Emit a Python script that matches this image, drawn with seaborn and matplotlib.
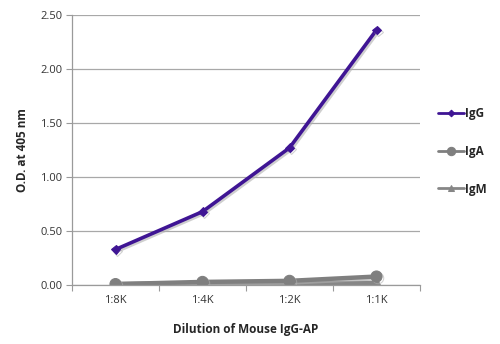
import matplotlib
matplotlib.use("Agg")
import matplotlib.pyplot as plt
import matplotlib.patheffects as pe
from matplotlib.ticker import FixedLocator
import seaborn as sns
import pandas as pd

dilutions = ["1:8K", "1:4K", "1:2K", "1:1K"]
igg = [0.33, 0.68, 1.27, 2.36]
iga = [0.01, 0.03, 0.04, 0.08]
igm = [0.01, 0.02, 0.02, 0.02]
series_names = ["IgG", "IgA", "IgM"]
y_ticks = [0.0, 0.5, 1.0, 1.5, 2.0, 2.5]

sns.set_theme(style="white")
plt.rcParams["font.family"] = ["Open Sans", "DejaVu Sans"]

df = pd.DataFrame({
    "dilution": dilutions * 3,
    "od": igg + iga + igm,
    "antibody": [n for n in series_names for _ in dilutions],
})
df["pos"] = df["dilution"].map({d: i for i, d in enumerate(dilutions)})

fig = plt.figure(figsize=(5.0, 3.44), dpi=100)
ax = fig.add_axes([0.144, 0.171, 0.696, 0.786])

palette = {"IgG": "#3f1594", "IgA": "#7f7f7f", "IgM": "#868686"}
markers = {"IgG": "D", "IgA": "o", "IgM": "^"}
sizes = {"IgG": 4.5, "IgA": 8, "IgM": 6}
shadow = [pe.SimpleLineShadow(offset=(1.2, -1.2), shadow_color="#b0b0b0", alpha=0.6), pe.Normal()]

for name in ["IgM", "IgA", "IgG"]:
    sub = df[df["antibody"] == name]
    sns.lineplot(data=sub, x="pos", y="od", ax=ax, color=palette[name],
                 marker=markers[name], markersize=sizes[name],
                 markeredgecolor=palette[name], linewidth=2.6 if name == "IgG" else 3.2,
                 label=name, legend=False, path_effects=shadow)

ax.set_xlim(-0.5, 3.5)
ax.set_ylim(0, 2.5)
ax.set_yticks(y_ticks)
ax.set_yticklabels([f"{v:.2f}" for v in y_ticks], fontsize=8, color="#333333")
ax.set_xticks(range(len(dilutions)))
ax.set_xticklabels(dilutions, fontsize=8, color="#333333")
ax.xaxis.set_minor_locator(FixedLocator([-0.5, 0.5, 1.5, 2.5, 3.5]))
ax.tick_params(axis="x", which="major", length=0, pad=7)
ax.tick_params(axis="x", which="minor", length=4, color="#9a9a9a", width=0.8, bottom=True)
ax.tick_params(axis="y", which="major", length=4, color="#9a9a9a", width=0.8, left=True, pad=3)

ax.yaxis.grid(True, color="#a8a8a8", linewidth=0.9)
ax.set_axisbelow(True)
for s in ["top", "right"]:
    ax.spines[s].set_visible(False)
for s in ["left", "bottom"]:
    ax.spines[s].set_color("#9a9a9a")
    ax.spines[s].set_linewidth(0.9)

ax.set_xlabel("Dilution of Mouse IgG-AP", fontsize=8.5, fontweight="bold", labelpad=12)
ax.set_ylabel("O.D. at 405 nm", fontsize=8.5, fontweight="bold", labelpad=8)

handles, labels = ax.get_legend_handles_labels()
order = [labels.index(n) for n in series_names]
leg = fig.legend([handles[i] for i in order], [labels[i] for i in order],
                 loc="upper left", bbox_to_anchor=(0.855, 0.72), frameon=False,
                 prop={"weight": "bold", "size": 8.5}, handlelength=2.2,
                 handletextpad=0.1, labelspacing=2.1, markerscale=0.75)
for line in leg.get_lines():
    line.set_linewidth(2.0)
    line.set_path_effects([])

fig.savefig("out.png", dpi=100)
